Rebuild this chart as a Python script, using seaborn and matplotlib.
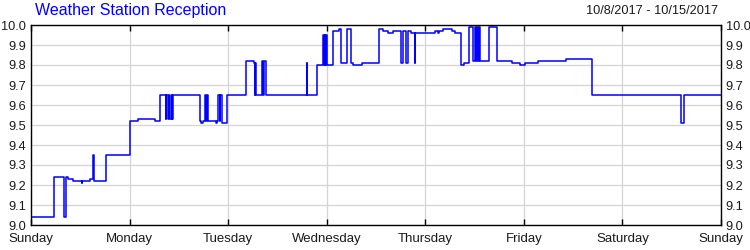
import matplotlib
matplotlib.use("Agg")
import matplotlib.pyplot as plt
import seaborn as sns
import pandas as pd

title = "Weather Station Reception"
date_range = "10/8/2017 - 10/15/2017"
day_labels = ["Sunday", "Monday", "Tuesday", "Wednesday", "Thursday", "Friday", "Saturday", "Sunday"]
day_hours = [0, 24, 48, 72, 96, 120, 144, 168]
y_ticks = [9.0, 9.1, 9.2, 9.3, 9.4, 9.5, 9.6, 9.7, 9.8, 9.9, 10.0]

# hours since Sunday 00:00 where the value changes (step-post)
hours = [0, 5.72, 8.11, 8.59, 8.89, 10.23, 12.30, 12.47, 14.29, 15.10, 15.34, 18.26,
         24.03, 26.13, 30.19, 31.29, 32.75, 32.99, 33.24, 33.60, 33.84, 34.21, 34.45, 34.65,
         41.22, 41.39, 41.76, 42.37, 42.73, 42.97, 43.17, 44.97, 45.17, 45.46, 45.90, 46.02,
         46.43, 47.72, 52.28, 54.30, 54.47, 54.59, 54.71, 56.17, 56.41, 56.61, 57.14,
         67.08, 67.20, 69.64, 71.17, 71.34, 71.51, 71.68, 71.83, 72.00, 73.60, 74.99, 75.55,
         76.87, 77.84, 78.47, 80.67, 84.80, 85.78, 86.85, 88.21, 90.02, 90.65, 91.31, 91.87,
         92.45, 93.38, 93.50, 98.37, 99.02, 99.41, 100.39, 102.43, 103.24, 104.58, 105.50,
         106.72, 107.55, 108.11, 108.35, 108.59, 108.84, 109.08, 109.32, 111.59, 113.39,
         117.19, 119.06, 120.21, 123.37, 130.34, 136.67, 158.26, 159.07, 168.0]
reception = [9.04, 9.24, 9.04, 9.24, 9.23, 9.22, 9.21, 9.22, 9.23, 9.35, 9.22, 9.35,
             9.52, 9.53, 9.52, 9.65, 9.53, 9.65, 9.53, 9.65, 9.53, 9.65, 9.53, 9.65,
             9.52, 9.51, 9.52, 9.65, 9.52, 9.65, 9.52, 9.51, 9.52, 9.65, 9.52, 9.65,
             9.51, 9.65, 9.82, 9.81, 9.65, 9.81, 9.65, 9.82, 9.65, 9.82, 9.65,
             9.81, 9.65, 9.80, 9.95, 9.80, 9.95, 9.80, 9.95, 9.80, 9.97, 9.98, 9.81,
             9.98, 9.81, 9.80, 9.81, 9.98, 9.97, 9.96, 9.97, 9.81, 9.97, 9.81, 9.97,
             9.96, 9.81, 9.96, 9.97, 9.96, 9.97, 9.98, 9.97, 9.96, 9.80, 9.81,
             9.99, 9.82, 9.99, 9.82, 9.99, 9.82, 9.99, 9.82, 9.99, 9.82,
             9.81, 9.80, 9.81, 9.82, 9.83, 9.65, 9.51, 9.65, 9.65]

df = pd.DataFrame({"hour": hours, "value": reception})

sns.set_theme(style="white")
plt.rcParams["font.family"] = ["Liberation Sans", "DejaVu Sans"]

fig = plt.figure(figsize=(7.5, 2.5), dpi=100)
ax = fig.add_axes([31 / 750, 0.1, 690 / 750, 0.8])

sns.lineplot(data=df, x="hour", y="value", ax=ax, color="#0000ff", linewidth=1.1,
             drawstyle="steps-post", estimator=None, sort=False)

ax.set_xlim(0, 168)
ax.set_ylim(9.0, 10.0)
ax.set_xticks(day_hours)
ax.set_xticklabels(day_labels)
ax.set_yticks(y_ticks)
ax.set_yticklabels([f"{v:.1f}" for v in y_ticks])
ax.set_xlabel("")
ax.set_ylabel("")

ax.grid(True, color="#d4d4d4", linewidth=0.9)
ax.set_axisbelow(True)
for s in ax.spines.values():
    s.set_visible(True)
    s.set_color("black")
    s.set_linewidth(1.0)

ax.tick_params(axis="x", which="both", direction="in", length=4, width=1.0, color="black",
               top=True, bottom=True, labelsize=9.5, labelcolor="#1a1a1a", pad=6)
ax.tick_params(axis="y", which="both", length=0, left=True, right=True,
               labelleft=True, labelright=True, labelsize=9.2, labelcolor="#1a1a1a", pad=3.5)

fig.text(35 / 750, 1 - 11 / 250, title, color="#0000ff", fontsize=11.5, va="center", ha="left")
fig.text(718 / 750, 1 - 11 / 250, date_range, color="#1a1a1a", fontsize=9.2, va="center", ha="right")

fig.savefig("out.png", dpi=100)
